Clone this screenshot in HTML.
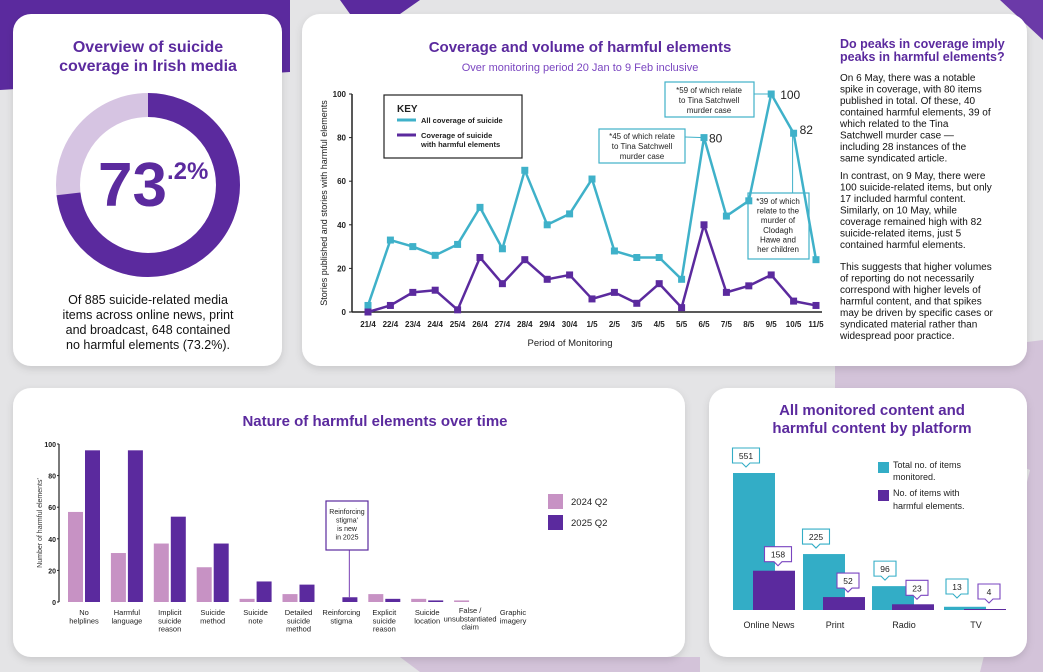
<!DOCTYPE html>
<html><head><meta charset="utf-8"><style>
html,body{margin:0;padding:0;background:#e4e4e6;}
svg{display:block;font-family:"Liberation Sans",sans-serif;}
</style></head><body>
<svg id="s" width="1043" height="672" viewBox="0 0 1043 672" xmlns="http://www.w3.org/2000/svg">
<defs><filter id="sh" x="-5%" y="-5%" width="110%" height="115%"><feDropShadow dx="0" dy="3" stdDeviation="4" flood-color="#000" flood-opacity="0.12"/></filter></defs>
<g>
<rect width="1043" height="672" fill="#e4e4e6"/>
<polygon points="0,0 290,0 290,72 0,90" fill="#5b2a9e"/>
<polygon points="340,0 420,0 400,14 350,14" fill="#5b2a9e"/>
<polygon points="1000,0 1043,0 1043,40" fill="#6b3aa8"/>
<polygon points="835,366 1043,340 1043,672 980,672 1030,470 835,388" fill="#d3c3d9"/>
<polygon points="400,657 700,657 700,672 420,672" fill="#d3c3d9"/>
</g>
<rect x="13" y="14" width="269" height="352" rx="18" fill="#fff" filter="url(#sh)"/>
<rect x="302" y="14" width="725" height="352" rx="18" fill="#fff" filter="url(#sh)"/>
<rect x="13" y="388" width="672" height="269" rx="18" fill="#fff" filter="url(#sh)"/>
<rect x="709" y="388" width="318" height="269" rx="18" fill="#fff" filter="url(#sh)"/>

<g font-weight="bold" font-size="16" fill="#5b2a9e" text-anchor="middle">
<text x="148" y="52">Overview of suicide</text><text x="148" y="71">coverage in Irish media</text></g>
<circle cx="148" cy="185" r="80" fill="none" stroke="#d6c4e2" stroke-width="24"/>
<circle id="donutArc" cx="148" cy="185" r="80" fill="none" stroke="#5b2a9e" stroke-width="24" transform="rotate(-90 148 185)"/>
<text x="98" y="206" font-size="62" font-weight="bold" fill="#5b2a9e">73<tspan font-size="24" dy="-27">.2%</tspan></text>
<g font-size="12.5" fill="#111" text-anchor="middle">
<text x="148" y="304">Of 885 suicide-related media</text><text x="148" y="319">items across online news, print</text><text x="148" y="334">and broadcast, 648 contained</text><text x="148" y="349">no harmful elements (73.2%).</text></g>

<text x="580" y="52" font-size="15" font-weight="bold" fill="#5b2a9e" text-anchor="middle">Coverage and volume of harmful elements</text>
<text x="580" y="71" font-size="11" fill="#7a45c0" text-anchor="middle">Over monitoring period 20 Jan to 9 Feb inclusive</text>
<g id="lineChart"></g>
<g fill="#111" font-size="10">
<text x="840" y="48" font-size="12.5" font-weight="bold" fill="#5b2a9e">Do peaks in coverage imply</text>
<text x="840" y="61" font-size="12.5" font-weight="bold" fill="#5b2a9e">peaks in harmful elements?</text>
<text x="840" y="81">On 6 May, there was a notable</text><text x="840" y="92.5">spike in coverage, with 80 items</text><text x="840" y="104">published in total. Of these, 40</text><text x="840" y="115.5">contained harmful elements, 39 of</text><text x="840" y="127">which related to the Tina</text><text x="840" y="138.5">Satchwell murder case —</text><text x="840" y="150">including 28 instances of the</text><text x="840" y="161.5">same syndicated article.</text>
<text x="840" y="179">In contrast, on 9 May, there were</text><text x="840" y="190.5">100 suicide-related items, but only</text><text x="840" y="202">17 included harmful content.</text><text x="840" y="213.5">Similarly, on 10 May, while</text><text x="840" y="225">coverage remained high with 82</text><text x="840" y="236.5">suicide-related items, just 5</text><text x="840" y="248">contained harmful elements.</text>
<text x="840" y="270">This suggests that higher volumes</text><text x="840" y="281.5">of reporting do not necessarily</text><text x="840" y="293">correspond with higher levels of</text><text x="840" y="304.5">harmful content, and that spikes</text><text x="840" y="316">may be driven by specific cases or</text><text x="840" y="327.5">syndicated material rather than</text><text x="840" y="339">widespread poor practice.</text>
</g>

<text x="375" y="426" font-size="15" font-weight="bold" fill="#5b2a9e" text-anchor="middle">Nature of harmful elements over time</text>
<g id="barChart"></g>

<g font-weight="bold" font-size="15" fill="#5b2a9e" text-anchor="middle">
<text x="872" y="415">All monitored content and</text><text x="872" y="433">harmful content by platform</text></g>
<g id="platChart"></g>
</svg>
<script>
const dates=["21/4","22/4","23/4","24/4","25/4","26/4","27/4","28/4","29/4","30/4","1/5","2/5","3/5","4/5","5/5","6/5","7/5","8/5","9/5","10/5","11/5"];
const allCoverage=[3,33,30,26,31,48,29,65,40,45,61,28,25,25,15,80,44,51,100,82,24];
const harmfulCoverage=[0,3,9,10,1,25,13,24,15,17,6,9,4,13,2,40,9,12,17,5,3];
const lineTicks=[0,20,40,60,80,100];
const natureCats=[["No","helplines"],["Harmful","language"],["Implicit","suicide","reason"],["Suicide","method"],["Suicide","note"],["Detailed","suicide","method"],["Reinforcing","stigma"],["Explicit","suicide","reason"],["Suicide","location"],["False /","unsubstantiated","claim"],["Graphic","imagery"]];
const nature2024=[57,31,37,22,2,5,0,5,2,1,0];
const nature2025=[96,96,54,37,13,11,3,2,1,0,0];
const natureTicks=[0,20,40,60,80,100];
const platforms=["Online News","Print","Radio","TV"];
const platTotal=[551,225,96,13];
const platHarm=[158,52,23,4];
const donutPct=73.2;

const NS="http://www.w3.org/2000/svg";
function el(parent,tag,attrs,txt){const e=document.createElementNS(NS,tag);for(const k in attrs)e.setAttribute(k,attrs[k]);if(txt!==undefined)e.textContent=txt;parent.appendChild(e);return e;}

const arc=document.getElementById('donutArc');const C=2*Math.PI*80;
arc.setAttribute('stroke-dasharray',(C*donutPct/100)+' '+C);

(function(){
const g=document.getElementById('lineChart');
const x0=368,dx=(816-368)/(dates.length-1);
const X=i=>x0+i*dx, Y=v=>312-v*(312-94)/100;
el(g,'line',{x1:352,y1:94,x2:352,y2:312,stroke:'#222','stroke-width':1.5});
el(g,'line',{x1:352,y1:312,x2:822,y2:312,stroke:'#222','stroke-width':1.5});
lineTicks.forEach(t=>{const tk=el(g,'text',{x:346,y:Y(t)+3,'font-size':8,'font-weight':'bold','text-anchor':'end',fill:'#222'},t);

el(g,'line',{x1:349,y1:Y(t),x2:352,y2:Y(t),stroke:'#222'});});
dates.forEach((d,i)=>{const t=el(g,'text',{x:X(i),y:327,'font-size':8,'font-weight':'bold','text-anchor':'middle',fill:'#222'},d);
});
el(g,'text',{x:570,y:346,'font-size':9.5,'text-anchor':'middle',fill:'#222'},'Period of Monitoring');
el(g,'text',{transform:'translate(327,203) rotate(-90)','font-size':9,'text-anchor':'middle',fill:'#222'},'Stories published and  stories with harmful elements');
const cy='#3fb1c9';
el(g,'rect',{x:599,y:129,width:86,height:34,fill:'#fff',stroke:cy,'stroke-width':1.2});
['*45 of which relate','to Tina Satchwell','murder case'].forEach((s,i)=>el(g,'text',{x:642,y:139+i*10,'font-size':8,'text-anchor':'middle',fill:'#222'},s));
el(g,'line',{x1:685,y1:137,x2:X(15),y2:Y(80),stroke:cy});
el(g,'rect',{x:665,y:82,width:89,height:35,fill:'#fff',stroke:cy,'stroke-width':1.2});
['*59 of which relate','to Tina Satchwell','murder case'].forEach((s,i)=>el(g,'text',{x:709,y:93+i*10,'font-size':8,'text-anchor':'middle',fill:'#222'},s));
el(g,'line',{x1:754,y1:94,x2:X(18),y2:Y(100),stroke:cy});
el(g,'line',{x1:X(19)-1,y1:Y(82),x2:X(19)-1,y2:193,stroke:cy});
el(g,'rect',{x:748,y:193,width:61,height:66,fill:'#fff',stroke:cy,'stroke-width':1.2});
['*39 of which','relate to the','murder of','Clodagh','Hawe and','her children'].forEach((s,i)=>el(g,'text',{x:778,y:204+i*9.6,'font-size':8,'text-anchor':'middle',fill:'#222'},s));
el(g,'text',{x:X(15)+5,y:Y(80)+5,'font-size':12,fill:'#222'},'80');
el(g,'text',{x:X(18)+9,y:Y(100)+5,'font-size':12,fill:'#222'},'100');
el(g,'text',{x:X(19)+6,y:Y(82)+1,'font-size':12,fill:'#222'},'82');
el(g,'rect',{x:384,y:95,width:138,height:63,fill:'#fff',stroke:'#222','stroke-width':1.2});
el(g,'text',{x:397,y:112,'font-size':10,'font-weight':'bold',fill:'#222'},'KEY');
el(g,'line',{x1:397,y1:120,x2:416,y2:120,stroke:cy,'stroke-width':3});
el(g,'text',{x:421,y:123,'font-size':7.5,'font-weight':'bold',fill:'#222'},'All coverage of suicide');
el(g,'line',{x1:397,y1:135,x2:416,y2:135,stroke:'#5b2a9e','stroke-width':3});
el(g,'text',{x:421,y:138,'font-size':7.5,'font-weight':'bold',fill:'#222'},'Coverage of suicide');
el(g,'text',{x:421,y:147,'font-size':7.5,'font-weight':'bold',fill:'#222'},'with harmful elements');
function series(vals,col,name){
 const p=el(g,'polyline',{points:vals.map((v,i)=>X(i)+','+Y(v)).join(' '),fill:'none',stroke:col,'stroke-width':2.5,'stroke-linejoin':'round'});
 
 vals.forEach((v,i)=>{const r=el(g,'rect',{x:X(i)-3.5,y:Y(v)-3.5,width:7,height:7,fill:col});
 });
}
series(allCoverage,cy,'all-coverage');series(harmfulCoverage,'#5b2a9e','harmful-coverage');
})();

(function(){
const g=document.getElementById('barChart');
const Y=v=>602-v*(602-444)/100, cx=i=>84+i*42.9, bw=15;
el(g,'line',{x1:59,y1:444,x2:59,y2:602,stroke:'#222','stroke-width':1.2});
natureTicks.forEach(t=>{const tk=el(g,'text',{x:56,y:Y(t)+3,'font-size':7,'font-weight':'bold','text-anchor':'end',fill:'#222'},t);

el(g,'line',{x1:57,y1:Y(t),x2:59,y2:Y(t),stroke:'#222'});});
el(g,'text',{transform:'translate(42,523) rotate(-90)','font-size':7,'text-anchor':'middle',fill:'#333'},"Number of harmful elements'");
natureCats.forEach((c,i)=>{
 const a=el(g,'rect',{x:cx(i)-bw-1,y:Y(nature2024[i]),width:bw,height:602-Y(nature2024[i]),fill:'#c792c4'});
 
 const b=el(g,'rect',{x:cx(i)+1,y:Y(nature2025[i]),width:bw,height:602-Y(nature2025[i]),fill:'#5b2a9e'});
 
 const off=c.length==3&&i==9?-2:0;
 c.forEach((s,j)=>{const t=el(g,'text',{x:cx(i),y:615+j*8.3+off,'font-size':7.5,'text-anchor':'middle',fill:'#222'},s);
 });
});
el(g,'rect',{x:548,y:494,width:15,height:15,fill:'#c792c4'});
el(g,'text',{x:571,y:505,'font-size':9.5,fill:'#222'},'2024 Q2');
el(g,'rect',{x:548,y:515,width:15,height:15,fill:'#5b2a9e'});
el(g,'text',{x:571,y:526,'font-size':9.5,fill:'#222'},'2025 Q2');
el(g,'line',{x1:cx(6)+8,y1:550,x2:cx(6)+8,y2:Y(nature2025[6]),stroke:'#8f5fc0','stroke-width':1.2});
el(g,'rect',{x:326,y:501,width:42,height:49,fill:'#fff',stroke:'#5b2a9e','stroke-width':1.2});
["Reinforcing","stigma'","is new","in 2025"].forEach((s,i)=>el(g,'text',{x:347,y:514+i*8.5,'font-size':7,'text-anchor':'middle',fill:'#222'},s));
})();

(function(){
const g=document.getElementById('platChart');
const base=610, k=137/551, gx=i=>[733,803,872,944][i], bw=42;
const Y=v=>base-v*k;
const cy='#33adc6',pu='#5b2a9e';
function callout(xc,ytop,txt,col){const w=txt.length>2?27:22,h=15;
 el(g,'path',{d:`M${xc-w/2},${ytop} h${w} v${h} h${-w/2+4} l-4,4 l-4,-4 h${-w/2+4} z`,fill:'#fff',stroke:col,'stroke-width':1.1});
 el(g,'text',{x:xc,y:ytop+11,'font-size':8.5,'text-anchor':'middle',fill:'#222'},txt);}
platforms.forEach((p,i)=>{
 const a=el(g,'rect',{x:gx(i),y:Y(platTotal[i]),width:bw,height:Math.max(base-Y(platTotal[i]),1.5),fill:cy});
 
 const b=el(g,'rect',{x:gx(i)+20,y:Y(platHarm[i]),width:bw,height:Math.max(base-Y(platHarm[i]),1),fill:pu});
 
 callout(gx(i)+bw/2-8,Math.min(Y(platTotal[i]),base-6)-25,String(platTotal[i]),cy);
 callout(gx(i)+20+bw/2+4,Math.min(Y(platHarm[i]),base-2)-24,String(platHarm[i]),'#7a45c0');
 const t=el(g,'text',{x:gx(i)+(i==0?36:32),y:628,'font-size':9,'text-anchor':'middle',fill:'#222'},p);
 
});
el(g,'rect',{x:878,y:462,width:11,height:11,fill:cy});
el(g,'text',{x:893,y:468,'font-size':9,fill:'#222'},'Total no. of items');
el(g,'text',{x:893,y:480,'font-size':9,fill:'#222'},'monitored.');
el(g,'rect',{x:878,y:490,width:11,height:11,fill:pu});
el(g,'text',{x:893,y:496,'font-size':9,fill:'#222'},'No. of items with');
el(g,'text',{x:893,y:509,'font-size':9,fill:'#222'},'harmful elements.');
})();
</script>
</body></html>
